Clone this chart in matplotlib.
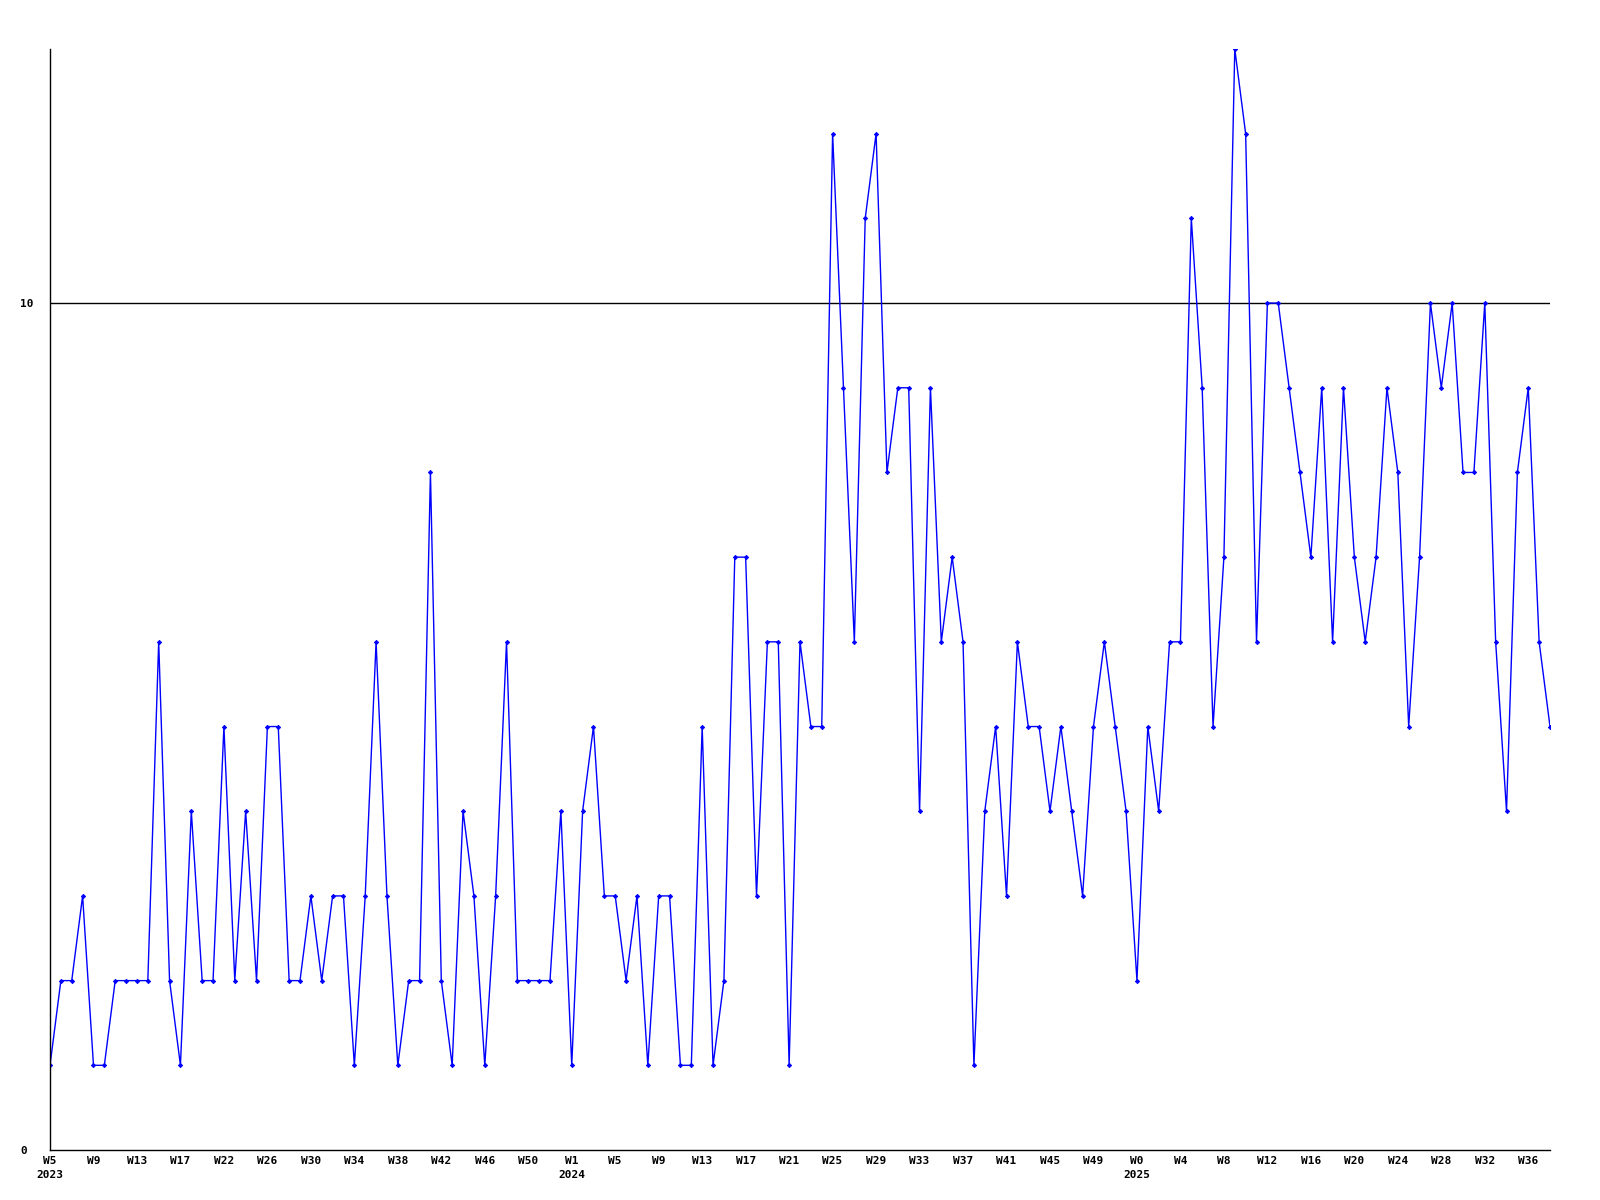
import matplotlib
matplotlib.use("Agg")
import matplotlib.pyplot as plt
import numpy as np

# weekly counts, one per week starting 2023 W5
values = [
    1, 2, 2, 3, 1, 1, 2, 2, 2, 2, 6, 2, 1, 4, 2, 2, 5, 2, 4, 2,
    5, 5, 2, 2, 3, 2, 3, 3, 1, 3, 6, 3, 1, 2, 2, 8, 2, 1, 4, 3,
    1, 3, 6, 2, 2, 2, 2, 4, 1, 4, 5, 3, 3, 2, 3, 1, 3, 3, 1, 1,
    5, 1, 2, 7, 7, 3, 6, 6, 1, 6, 5, 5, 12, 9, 6, 11, 12, 8, 9, 9,
    4, 9, 6, 7, 6, 1, 4, 5, 3, 6, 5, 5, 4, 5, 4, 3, 5, 6, 5, 4,
    2, 5, 4, 6, 6, 11, 9, 5, 7, 13, 12, 6, 10, 10, 9, 8, 7, 9, 6, 9,
    7, 6, 7, 9, 8, 5, 7, 10, 9, 10, 8, 8, 10, 6, 4, 8, 9, 6, 5,
]

# one label every 4 points
week_labels = [
    "W5\n2023", "W9", "W13", "W17", "W22", "W26", "W30", "W34", "W38", "W42", "W46", "W50",
    "W1\n2024", "W5", "W9", "W13", "W17", "W21", "W25", "W29", "W33", "W37", "W41", "W45", "W49",
    "W0\n2025", "W4", "W8", "W12", "W16", "W20", "W24", "W28", "W32", "W36",
]
y_ticks = [0, 10]
ref_line = 10

x = np.arange(len(values))

plt.rcParams['font.family'] = ['DejaVu Sans Mono']

fig = plt.figure(figsize=(16, 12), dpi=100)
ax = fig.add_axes([50 / 1600, 50 / 1200, 1500 / 1600, 1101 / 1200])

ax.axhline(ref_line, color='black', lw=1.0, zorder=1)
ax.plot(x, values, color='#0000ff', lw=1.0, marker='D', markersize=2.2,
        markeredgewidth=0.6, zorder=2)

ax.set_xlim(0, len(values) - 1)
ax.set_ylim(0, 13)

ax.set_xticks(x[::4][:len(week_labels)])
ax.set_xticklabels(week_labels, fontsize=8, fontweight='bold', linespacing=1.6)
ax.set_yticks(y_ticks)
ax.set_yticklabels([str(v) for v in y_ticks], fontsize=8, fontweight='bold')
for lab in ax.get_yticklabels():
    lab.set_ha('left')

ax.tick_params(axis='x', length=0, pad=4)
ax.tick_params(axis='y', length=0, pad=21.6)

for s in ['top', 'right']:
    ax.spines[s].set_visible(False)
for s in ['left', 'bottom']:
    ax.spines[s].set_linewidth(1.0)
    ax.spines[s].set_color('black')

fig.savefig('out.png', dpi=100)
